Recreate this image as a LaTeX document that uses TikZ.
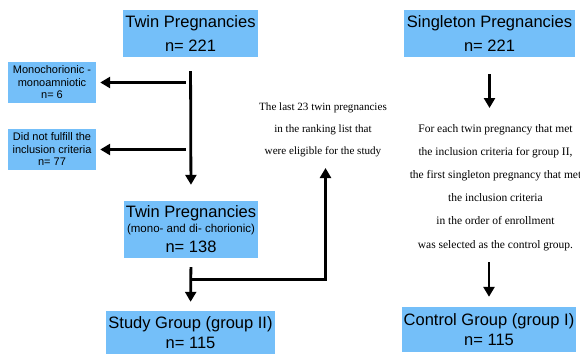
\documentclass[tikz,border=0pt]{standalone}
\usepackage{fontspec}
\setmainfont{Liberation Serif}
\newfontfamily\boxfont{Liberation Sans}
\usetikzlibrary{arrows.meta,calc}
\definecolor{boxblue}{RGB}{116,191,249}
\begin{document}
\begin{tikzpicture}[x=1pt,y=-1pt,
  box/.style={fill=boxblue, draw=none, inner sep=0pt, align=center},
  big/.style={font=\boxfont\fontsize{16.5}{20}\selectfont},
  small/.style={font=\boxfont\fontsize{11}{12.5}\selectfont},
  note/.style={align=center, inner sep=0pt},
  arr/.style={line width=2.8pt, -{Triangle[length=10pt,width=11pt]}}]
\fill[white] (0,0) rectangle (580,356);
\useasboundingbox (0,0) rectangle (580,356);
% boxes
\node[box,big,minimum width=135pt,minimum height=47pt] (twin) at (190.5,33.5) {Twin Pregnancies\\[4.4pt]n= 221};
\node[box,small,minimum width=88pt,minimum height=41pt] (mono) at (52,82.5) {Monochorionic -\\monoamniotic\\n= 6};
\node[box,small,minimum width=88pt,minimum height=41pt] (excl) at (52,149.5) {Did not fulfill the\\inclusion criteria\\n= 77};
\node[box,big,minimum width=134pt,minimum height=57pt] (twin2) at (191,229.5) {Twin Pregnancies\\[-5pt]{\fontsize{11.5}{13}\selectfont (mono- and di- chorionic)}\\n= 138};
\node[box,big,minimum width=169pt,minimum height=43pt] (study) at (190.5,332.5) {Study Group (group II)\\n= 115};
\node[box,big,minimum width=171pt,minimum height=47pt] (single) at (489.5,33.5) {Singleton Pregnancies\\[4.4pt]n= 221};
\node[box,big,minimum width=174pt,minimum height=45pt] (ctrl) at (489,329.5) {Control Group (group I)\\n= 115};
% notes
\node[note,anchor=north,font=\fontsize{11.1}{22}\selectfont] (lasttxt) at (323,103) {The last 23 twin pregnancies\\in the ranking list that\\were eligible for the study};
\node[note,anchor=north,font=\fontsize{11.5}{23.2}\selectfont] (ctxt) at (495.5,124) {For each twin pregnancy that met\\the inclusion criteria for group II,\\the first singleton pregnancy that met\\the inclusion criteria\\in the order of enrollment\\was selected as the control group.};
% connectors
\draw[arr,shorten <=14pt,shorten >=16pt] (twin.south) -- (twin2.north);
\draw[arr,shorten <=5pt,shorten >=4pt] (twin.south |- mono.east) -- (mono.east);
\draw[arr,shorten <=5pt,shorten >=4pt] (twin.south |- excl.east) -- (excl.east);
\draw[arr,shorten <=9pt,shorten >=9pt] (twin2.south) -- (study.north);
\coordinate (j) at ($(twin2.south)+(0,21)$);
\coordinate (up) at ($(lasttxt.south)+(2.5,10.5)$);
\draw[arr] (j) -| (up);
\draw[arr,shorten <=17pt,shorten >=16pt] (single.south) -- (single.south |- ctxt.north);
\draw[arr,shorten <=11.5pt,shorten >=10pt] (ctrl.north |- ctxt.south) -- (ctrl.north);
\end{tikzpicture}
\end{document}
